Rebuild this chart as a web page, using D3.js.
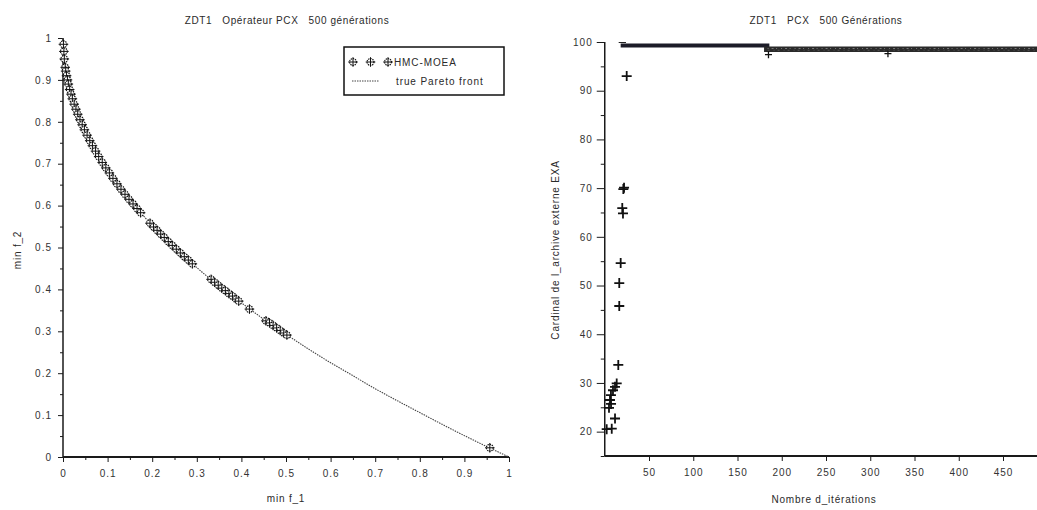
<!DOCTYPE html>
<html>
<head>
<meta charset="utf-8">
<script src="https://cdn.jsdelivr.net/npm/d3@7/dist/d3.min.js"></script>
<style>
  html, body { margin: 0; padding: 0; background: #fff; }
  svg { display: block; }
  text { font-family: "Liberation Sans", Arial, sans-serif; fill: #2a2a2a; white-space: pre; }
  .tick text { font-size: 10px; letter-spacing: 1px; fill: #333; }
  .axis path, .axis line { stroke: #1a1a1a; }
</style>
</head>
<body>
<svg id="chart" width="1037" height="510"></svg>
<script>
// ---------- Left panel: ZDT1 front found by HMC-MOEA ----------
const leftTitle = "ZDT1   Opérateur PCX   500 générations";
const leftXLabel = "min f_1";
const leftYLabel = "min f_2";
const leftTicks = [0, 0.1, 0.2, 0.3, 0.4, 0.5, 0.6, 0.7, 0.8, 0.9, 1];
const leftMinorTicks = [0.05, 0.15, 0.25, 0.35, 0.45, 0.55, 0.65, 0.75, 0.85, 0.95];

// True Pareto front samples (f1, f2)
const frontF1 = [0, 0.002, 0.005, 0.01, 0.02, 0.04, 0.06, 0.08, 0.1, 0.15, 0.2, 0.25, 0.3, 0.35, 0.4, 0.45, 0.5, 0.55, 0.6, 0.65, 0.7, 0.75, 0.8, 0.85, 0.9, 0.95, 1];
const frontF2 = [1, 0.955, 0.929, 0.9, 0.859, 0.8, 0.755, 0.717, 0.684, 0.613, 0.553, 0.5, 0.452, 0.408, 0.368, 0.329, 0.293, 0.258, 0.225, 0.194, 0.163, 0.134, 0.106, 0.078, 0.051, 0.025, 0];

// Non-dominated solutions of HMC-MOEA (f1, f2)
const moeaF1 = [0.001, 0.002, 0.003, 0.005, 0.006, 0.008, 0.010, 0.012, 0.015, 0.018, 0.021, 0.025, 0.029, 0.033, 0.038, 0.043, 0.048, 0.054, 0.060, 0.066, 0.073, 0.080, 0.088, 0.096, 0.104, 0.112, 0.121, 0.130, 0.139, 0.148, 0.157, 0.166, 0.174,
  0.195, 0.203, 0.211, 0.219, 0.227, 0.236, 0.245, 0.254, 0.263, 0.272, 0.281, 0.290,
  0.332, 0.340, 0.348, 0.356, 0.364, 0.372, 0.380, 0.388, 0.394,
  0.418,
  0.455, 0.463, 0.471, 0.479, 0.487, 0.495, 0.502,
  0.957];
const moeaF2 = [0.985, 0.968, 0.950, 0.930, 0.921, 0.910, 0.900, 0.890, 0.877, 0.866, 0.855, 0.842, 0.830, 0.818, 0.805, 0.793, 0.781, 0.768, 0.755, 0.743, 0.730, 0.717, 0.703, 0.690, 0.678, 0.665, 0.652, 0.639, 0.627, 0.615, 0.604, 0.593, 0.583,
  0.558, 0.549, 0.541, 0.532, 0.524, 0.514, 0.505, 0.496, 0.487, 0.478, 0.470, 0.461,
  0.424, 0.417, 0.410, 0.403, 0.397, 0.390, 0.384, 0.377, 0.372,
  0.353,
  0.325, 0.320, 0.314, 0.308, 0.302, 0.296, 0.291,
  0.022];

const legendLabels = ["HMC-MOEA", "true Pareto front"];

// ---------- Right panel: size of the external archive ----------
const rightTitle = "ZDT1   PCX   500 Générations";
const rightXLabel = "Nombre d_itérations";
const rightYLabel = "Cardinal de l_archive externe EXA";
const rightXTicks = [50, 100, 150, 200, 250, 300, 350, 400, 450, 500];
const rightXLabelled = [50, 100, 150, 200, 250, 300, 350, 400, 450];
const rightYTicks = [20, 30, 40, 50, 60, 70, 80, 90, 100];
const rightYMinor = [15, 25, 35, 45, 55, 65, 75, 85, 95];

// Early iterations, archive still growing
const earlyIter = [2.2, 7.9, 11.6, 4.8, 7.1, 5.9, 7.0, 9.3, 11.6, 13.5, 15.3, 16.4, 16.4, 18.0, 20.6, 19.8, 21.0, 21.8, 24.8];
const earlyCard = [20.5, 20.6, 22.7, 24.9, 25.7, 26.5, 27.5, 28.5, 29.2, 29.9, 33.7, 45.8, 50.5, 54.6, 64.8, 65.9, 69.8, 70.1, 93.0];

// Saturated archive: one run per plateau
const plateauStart = [18, 180];
const plateauEnd = [186, 500];
const plateauCard = [99.3, 98.5];
// Occasional dips below the plateau
const dipIter = [185, 320];
const dipCard = [97.4, 97.6];

const svg = d3.select("#chart");

// ================= LEFT =================
const xL = d3.scaleLinear().domain([0, 1]).range([63, 509]);
const yL = d3.scaleLinear().domain([0, 1]).range([457, 38]);

const gL = svg.append("g");

gL.append("text").attr("x", 287).attr("y", 24).attr("text-anchor", "middle")
  .style("font-size", "10px").style("letter-spacing", "0.6px").text(leftTitle);

// axes
const axLx = gL.append("g").attr("class", "axis").attr("transform", `translate(0,${yL(0)})`)
  .call(d3.axisBottom(xL).tickValues(leftTicks).tickFormat(d3.format("")).tickSize(5).tickPadding(8));
gL.append("g").attr("class", "axis").attr("transform", `translate(0,${yL(0)})`)
  .call(d3.axisBottom(xL).tickValues(leftMinorTicks).tickFormat("").tickSize(3))
  .select(".domain").remove();
axLx.select(".domain").attr("d", `M${xL(0)},0H${xL(1)}`).attr("stroke-width", 2);

const axLy = gL.append("g").attr("class", "axis").attr("transform", `translate(${xL(0)},0)`)
  .call(d3.axisLeft(yL).tickValues(leftTicks).tickFormat(d3.format("")).tickSize(5).tickPadding(6));
gL.append("g").attr("class", "axis").attr("transform", `translate(${xL(0)},0)`)
  .call(d3.axisLeft(yL).tickValues(leftMinorTicks).tickFormat("").tickSize(3))
  .select(".domain").remove();
axLy.select(".domain").attr("d", `M0,${yL(0)}V${yL(1)}`).attr("stroke-width", 1.5);

gL.append("text").attr("x", 286).attr("y", 502).attr("text-anchor", "middle")
  .style("font-size", "10px").style("letter-spacing", "0.8px").text(leftXLabel);
gL.append("text").attr("transform", "translate(21,250) rotate(-90)").attr("text-anchor", "middle")
  .style("font-size", "10px").style("letter-spacing", "0.8px").text(leftYLabel);

// true Pareto front
const frontLine = d3.line().x((d, i) => xL(frontF1[i])).y((d, i) => yL(frontF2[i])).curve(d3.curveMonotoneX);
gL.append("path").datum(frontF1).attr("d", frontLine)
  .attr("fill", "none").attr("stroke", "#444").attr("stroke-width", 1.1).attr("stroke-dasharray", "1.5,1");

// circle-plus marker
function circlePlus(g, cx, cy) {
  const m = g.append("g").attr("transform", `translate(${cx},${cy})`);
  m.append("circle").attr("r", 3.4).attr("fill", "#fff").attr("stroke", "#111").attr("stroke-width", 1.2).attr("stroke-dasharray", "1.4,0.8");
  m.append("path").attr("d", "M-4.8,0H4.8M0,-4.8V4.8").attr("stroke", "#111").attr("stroke-width", 1);
  return m;
}
const moeaG = gL.append("g");
moeaF1.forEach((f1, i) => circlePlus(moeaG, xL(f1), yL(moeaF2[i])));

// legend
const leg = gL.append("g");
leg.append("rect").attr("x", 344).attr("y", 47).attr("width", 160).attr("height", 48)
  .attr("fill", "#fff").attr("stroke", "#111").attr("stroke-width", 1.5);
[353, 370.5, 388].forEach(x => circlePlus(leg, x, 62));
leg.append("text").attr("x", 394).attr("y", 66).style("font-size", "10px").style("letter-spacing", "0.9px").text(legendLabels[0]);
leg.append("line").attr("x1", 352).attr("x2", 379).attr("y1", 81).attr("y2", 81)
  .attr("stroke", "#444").attr("stroke-width", 1).attr("stroke-dasharray", "1.5,1");
leg.append("text").attr("x", 396).attr("y", 85).style("font-size", "10px").style("letter-spacing", "0.9px").text(legendLabels[1]);

// ================= RIGHT =================
const xR = d3.scaleLinear().domain([0, 500]).range([604.75, 1047.25]);
const yR = d3.scaleLinear().domain([15, 100]).range([456, 42]);
const gR = svg.append("g");

gR.append("text").attr("x", 826).attr("y", 24).attr("text-anchor", "middle")
  .style("font-size", "10px").style("letter-spacing", "0.6px").text(rightTitle);

const axRx = gR.append("g").attr("class", "axis").attr("transform", `translate(0,${yR(15)})`)
  .call(d3.axisBottom(xR).tickValues(rightXTicks)
    .tickFormat(d => rightXLabelled.includes(d) ? d3.format("")(d) : "")
    .tickSize(5).tickPadding(8));
axRx.select(".domain").attr("d", `M${xR(0)},0H${xR(500)}`).attr("stroke-width", 2);

const axRy = gR.append("g").attr("class", "axis").attr("transform", `translate(${xR(0)},0)`)
  .call(d3.axisLeft(yR).tickValues(rightYTicks).tickFormat(d3.format("")).tickSize(8).tickPadding(4));
gR.append("g").attr("class", "axis").attr("transform", `translate(${xR(0)},0)`)
  .call(d3.axisLeft(yR).tickValues(rightYMinor).tickFormat("").tickSize(4))
  .select(".domain").remove();
axRy.select(".domain").attr("d", `M0,${yR(15)}V${yR(100)}`).attr("stroke-width", 1.5);

gR.append("text").attr("x", 824).attr("y", 503).attr("text-anchor", "middle")
  .style("font-size", "10px").style("letter-spacing", "0.8px").text(rightXLabel);
gR.append("text").attr("transform", "translate(559,250) rotate(-90)").attr("text-anchor", "middle")
  .style("font-size", "10px").style("letter-spacing", "0.8px").text(rightYLabel);

// plateaus of the saturated archive
const plateauColor = ["#1c1c28", "#2a2a2a"];
const plateauWidth = [4, 5.5];
plateauStart.forEach((s, i) => {
  gR.append("line").attr("x1", xR(s)).attr("x2", xR(plateauEnd[i]))
    .attr("y1", yR(plateauCard[i])).attr("y2", yR(plateauCard[i]))
    .attr("stroke", plateauColor[i]).attr("stroke-width", plateauWidth[i]);
});
// speckled texture on the second plateau
gR.append("line").attr("x1", xR(plateauStart[1] + 4)).attr("x2", xR(plateauEnd[1]))
  .attr("y1", yR(plateauCard[1]) - 0.8).attr("y2", yR(plateauCard[1]) - 0.8)
  .attr("stroke", "#777").attr("stroke-width", 1).attr("stroke-dasharray", "1,3,2,2.5,1,4");
gR.append("line").attr("x1", xR(plateauStart[1] + 4)).attr("x2", xR(plateauEnd[1]))
  .attr("y1", yR(plateauCard[1]) + 1).attr("y2", yR(plateauCard[1]) + 1)
  .attr("stroke", "#5e5e5e").attr("stroke-width", 0.8).attr("stroke-dasharray", "2,4,1,3");
// thin lead-in of the first plateau
gR.append("line").attr("x1", xR(plateauStart[0]) - 2).attr("x2", xR(plateauStart[0] + 6))
  .attr("y1", yR(100) + 0.5).attr("y2", yR(100) + 0.5).attr("stroke", "#222").attr("stroke-width", 1);

// plus markers
function plus(g, cx, cy, r, w) {
  g.append("path").attr("d", `M${cx - r},${cy}H${cx + r}M${cx},${cy - r}V${cy + r}`)
    .attr("stroke", "#111").attr("stroke-width", w);
}
dipIter.forEach((it, i) => plus(gR, xR(it), yR(dipCard[i]), 3.5, 1.3));
earlyIter.forEach((it, i) => plus(gR, xR(it), yR(earlyCard[i]), 5, 1.8));
</script>
</body>
</html>
